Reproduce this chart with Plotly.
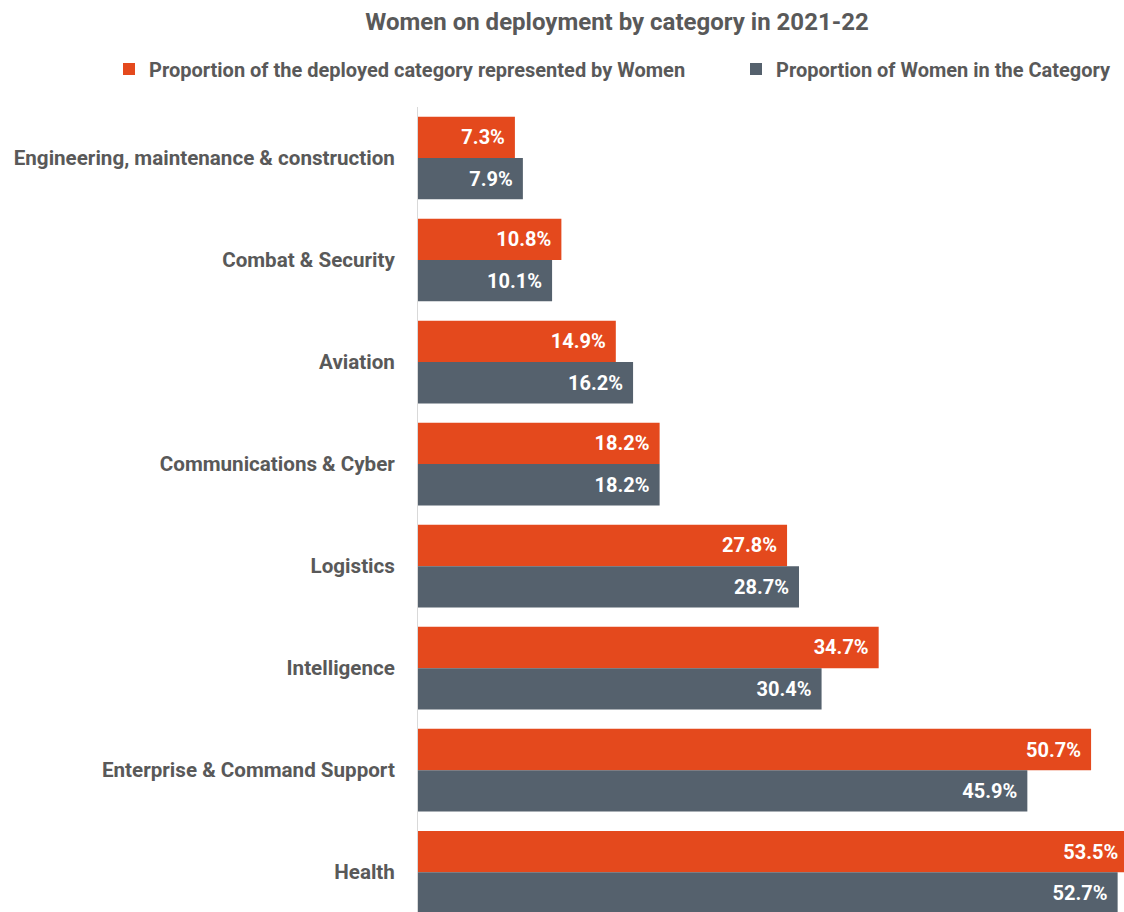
import plotly.graph_objects as go

categories = [
    "Engineering, maintenance & construction",
    "Combat & Security",
    "Aviation",
    "Communications & Cyber",
    "Logistics",
    "Intelligence",
    "Enterprise & Command Support",
    "Health",
]
deployed_women = [7.3, 10.8, 14.9, 18.2, 27.8, 34.7, 50.7, 53.5]
women_in_category = [7.9, 10.1, 16.2, 18.2, 28.7, 30.4, 45.9, 52.7]

series_names = [
    "Proportion of the deployed category represented by Women",
    "Proportion of Women in the Category",
]
colors = ["#E4491D", "#55616D"]
legend_widths = [582, None]

FONT = "Roboto, sans-serif"
TXT = "#595959"

W, H = 1124, 912
ML, MT = 418, 107
PW, PH = W - ML, H - MT

fig = go.Figure()
for name, vals, col, lw in zip(series_names, [deployed_women, women_in_category], colors, legend_widths):
    kw = {}
    if lw:
        kw["legendwidth"] = lw
    fig.add_trace(go.Bar(
        y=categories, x=vals, name=name, orientation="h",
        marker=dict(color=col, line=dict(width=0)),
        texttemplate="%{x:.1f}%\u00a0\u200a",
        textposition="inside", insidetextanchor="end",
        textfont=dict(family=FONT, size=20, color="white", weight="bold"),
        constraintext="none",
        **kw,
    ))

fig.update_layout(
    width=W, height=H,
    margin=dict(l=ML, r=0, t=MT, b=0),
    paper_bgcolor="white", plot_bgcolor="white",
    barmode="group", bargap=0.19, bargroupgap=0,
    font=dict(family=FONT, color=TXT),
    title=dict(text="Women on deployment by category in 2021-22",
               x=617 / W, xanchor="center", xref="container",
               y=1 - 22 / H, yanchor="middle", yref="container",
               font=dict(family=FONT, size=24, color=TXT, weight="bold")),
    legend=dict(orientation="h", xref="paper", yref="paper",
                x=(109 - ML) / PW, xanchor="left",
                y=1 + (MT - 69) / PH, yanchor="middle",
                font=dict(family=FONT, size=20, color=TXT, weight="bold"),
                traceorder="normal", borderwidth=0),
    showlegend=True,
)
fig.update_xaxes(range=[0, 53.18], visible=False, showgrid=False, zeroline=False)
fig.update_yaxes(range=[7.39, -0.5], showline=True, linecolor="#D9D9D9", linewidth=1,
                 ticks="", ticklabelstandoff=18, showgrid=False,
                 tickfont=dict(family=FONT, size=20.6, color=TXT, weight="bold"))

fig.write_html("out.html",
               config={"displayModeBar": False},
               post_script="document.body.style.margin='0';document.body.style.overflow='hidden';")
